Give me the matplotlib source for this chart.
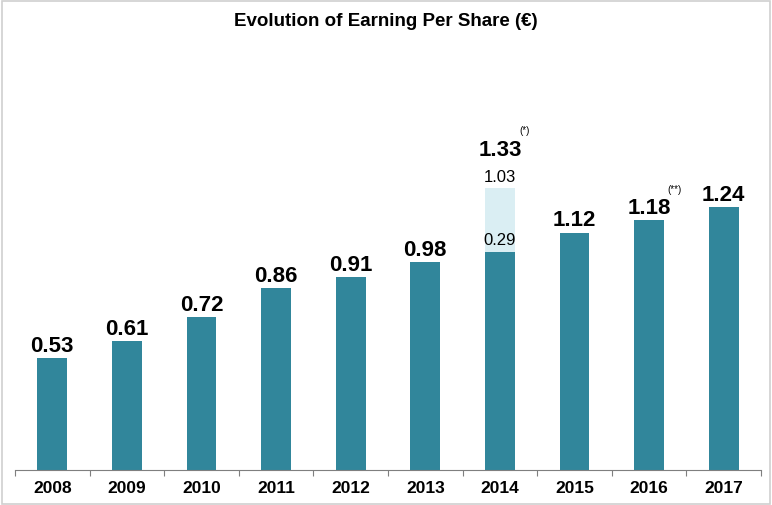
import matplotlib.pyplot as plt
from matplotlib.patches import Rectangle

years = ['2008', '2009', '2010', '2011', '2012', '2013', '2014', '2015', '2016', '2017']
eps = [0.53, 0.61, 0.72, 0.86, 0.91, 0.98, 1.03, 1.12, 1.18, 1.24]
labels = ['0.53', '0.61', '0.72', '0.86', '0.91', '0.98', '1.33', '1.12', '1.18', '1.24']

# 2014: split bar (base + non-recurring part)
idx_2014 = 6
extra_2014 = 0.30
base_label_2014 = '1.03'
extra_label_2014 = '0.29'
idx_2016 = 8

teal = '#31869B'
light = '#DAEEF3'
arial = ['Liberation Sans', 'DejaVu Sans']

fig = plt.figure(figsize=(7.72, 5.06), dpi=100)
ax = fig.add_axes([15/772, 1 - 471/506, 746/772, 424/506])

x = range(len(years))
ax.bar(x, eps, width=0.4, color=teal, zorder=2)
ax.bar(idx_2014, extra_2014, bottom=eps[idx_2014], width=0.4, color=light, zorder=2)

ax.set_xlim(-0.5, len(years) - 0.5)
ax.set_ylim(0, 2.0)
for s in ['top', 'right', 'left']:
    ax.spines[s].set_visible(False)
ax.spines['bottom'].set_color('#7F7F7F')
ax.set_yticks([])
ax.set_xticks([i - 0.5 for i in range(len(years) + 1)])
ax.set_xticklabels([])
ax.tick_params(axis='x', length=4, color='#7F7F7F', direction='out')
for i, y in enumerate(years):
    ax.text(i, -0.045, y, ha='center', va='top', fontsize=12.5, fontweight='bold',
            family=arial)

for i, v in enumerate(eps):
    if i == idx_2014:
        top = v + extra_2014
        ax.annotate(labels[i], (i, top), xytext=(0, 28), textcoords='offset points',
                    ha='center', va='center', fontsize=16, fontweight='bold', family=arial)
        ax.annotate(base_label_2014, (i, top), xytext=(0, 8.5), textcoords='offset points',
                    ha='center', va='center', fontsize=12, family=arial)
        ax.annotate(extra_label_2014, (i, v), xytext=(0, 8.5), textcoords='offset points',
                    ha='center', va='center', fontsize=12, family=arial)
        ax.annotate('(*)', (i, top), xytext=(18, 42), textcoords='offset points',
                    ha='center', va='center', fontsize=7, family=arial)
    else:
        ax.annotate(labels[i], (i, v), xytext=(0, 1.5), textcoords='offset points',
                    ha='center', va='bottom', fontsize=16, fontweight='bold', family=arial)
ax.annotate('(**)', (idx_2016, eps[idx_2016]), xytext=(18, 22), textcoords='offset points',
            ha='center', va='center', fontsize=7, family=arial)

fig.text(0.5, 1 - 22/506, 'Evolution of Earning Per Share (€)', ha='center', va='center',
         fontsize=13.5, fontweight='bold', family=arial)

fig.patches.append(Rectangle((0.002, 0.002), 0.996, 0.994, transform=fig.transFigure,
                             fill=False, edgecolor='#D0D0D0', linewidth=1.2))

fig.savefig('out.png', dpi=100)
